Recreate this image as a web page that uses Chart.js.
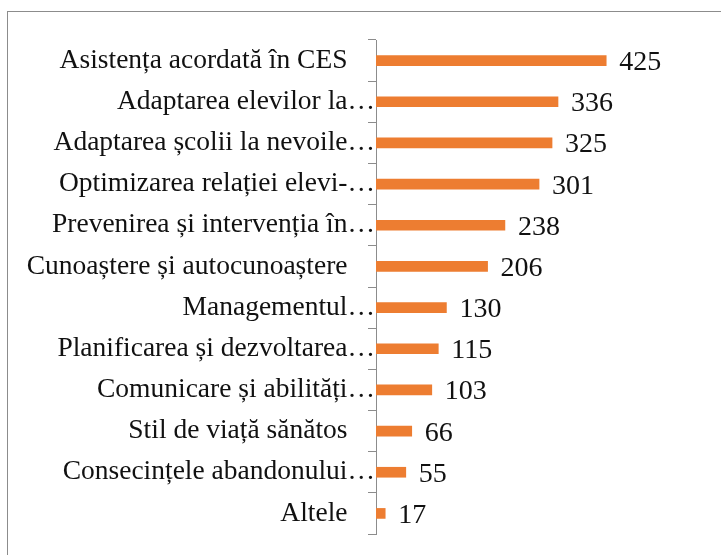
<!DOCTYPE html>
<html>
<head>
<meta charset="utf-8">
<script src="https://cdn.jsdelivr.net/npm/chart.js@4/dist/chart.umd.min.js"></script>
<style>
  body { margin: 0; background: #fff; }
  #marco { position: absolute; left: 7px; top: 11px; width: 800px; height: 700px;
           border-left: 1px solid #8c8c8c; border-top: 1px solid #8c8c8c; }
  #grafico { position: absolute; left: 0; top: 0; }
</style>
</head>
<body>
<div id="marco"></div>
<canvas id="grafico" width="721" height="555"></canvas>
<script>
// ==================== DATOS ====================
const categorias = [
  'Asistența acordată în CES    ',
  'Adaptarea elevilor la…',
  'Adaptarea școlii la nevoile…',
  'Optimizarea relației elevi-…',
  'Prevenirea și intervenția în…',
  'Cunoaștere și autocunoaștere    ',
  'Managementul…',
  'Planificarea și dezvoltarea…',
  'Comunicare și abilități…',
  'Stil de viață sănătos    ',
  'Consecințele abandonului…',
  'Altele    '
];
const valores = [425, 336, 325, 301, 238, 206, 130, 115, 103, 66, 55, 17];

const FUENTE = '"Liberation Serif", "Times New Roman", serif';

// etiquetas de valor a la derecha de cada barra
const etiquetasValor = {
  id: 'etiquetasValor',
  afterDatasetsDraw(chart) {
    const ctx = chart.ctx;
    const meta = chart.getDatasetMeta(0);
    ctx.save();
    ctx.font = '28px ' + FUENTE;
    ctx.fillStyle = '#111';
    ctx.textAlign = 'left';
    ctx.textBaseline = 'alphabetic';
    meta.data.forEach((barra, i) => {
      ctx.fillText(String(valores[i]), barra.x + 13, barra.y + 9.5);
    });
    ctx.restore();
  }
};

// ==================== GRÁFICO ====================
const ctx = document.getElementById('grafico').getContext('2d');
new Chart(ctx, {
  type: 'bar',
  data: {
    labels: categorias,
    datasets: [{
      data: valores,
      backgroundColor: '#ED7D31',
      barThickness: 10
    }]
  },
  options: {
    indexAxis: 'y',
    responsive: false,
    animation: false,
    layout: { padding: { left: 0, right: 20, top: 40, bottom: 21 } },
    plugins: { legend: { display: false }, tooltip: { enabled: false } },
    scales: {
      x: { display: false, min: 0, max: 600 },
      y: {
        afterFit: (scale) => { scale.width = 376; },
        grid: { drawOnChartArea: false, drawTicks: true, tickLength: 8, color: '#8c8c8c', offset: true },
        border: { display: true, color: '#8c8c8c', width: 1 },
        ticks: { color: '#111', padding: -7, autoSkip: false, font: { family: FUENTE, size: 27.5 } }
      }
    }
  },
  plugins: [etiquetasValor]
});
</script>
</body>
</html>
